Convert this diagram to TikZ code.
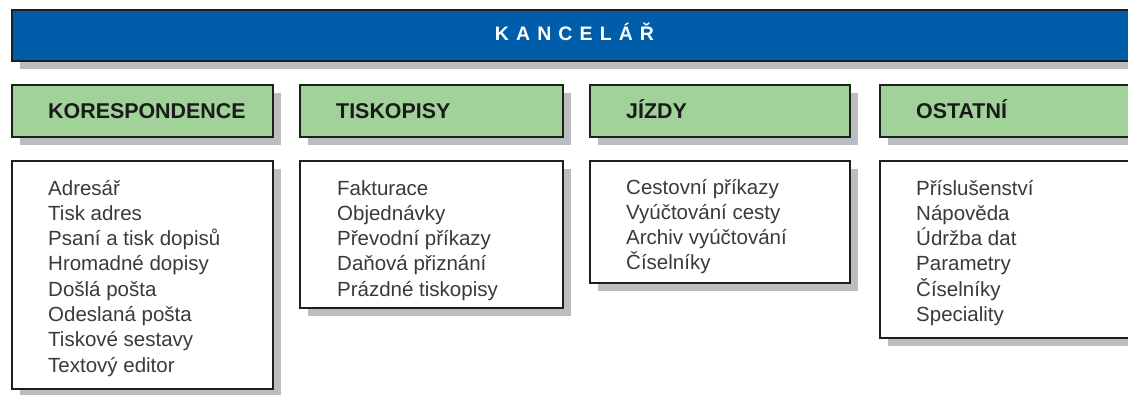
\documentclass[tikz,border=0pt]{standalone}
\usepackage{fontspec}
\setmainfont{Liberation Sans}
\usetikzlibrary{shadows}
\definecolor{barblue}{HTML}{005DA9}
\definecolor{headgreen}{HTML}{A1D29A}
\definecolor{shadowgray}{HTML}{BCBDC0}
\definecolor{edgecol}{HTML}{1E1E1E}
\definecolor{itemtext}{HTML}{3A3A3A}
\definecolor{headtextcol}{HTML}{1A1A1A}
\begin{document}
\begin{tikzpicture}[x=1pt,y=-1pt,
  boxbase/.style={draw=edgecol, line width=2.2pt, rectangle, inner sep=0pt, anchor=north west,
    drop shadow={shadow xshift=8pt, shadow yshift=-8pt, fill=shadowgray, opacity=1}},
  titlebar/.style={boxbase, fill=barblue, minimum width=1140pt, minimum height=51pt},
  headbox/.style={boxbase, fill=headgreen, minimum height=52pt},
  listbox/.style={boxbase, fill=white},
  titletext/.style={text=white, font=\fontsize{19.5}{23}\selectfont\bfseries, inner sep=0pt, anchor=base},
  headtext/.style={text=headtextcol, font=\fontsize{21.4}{25}\selectfont\bfseries, inner sep=0pt, anchor=base west},
  itemlist/.style={text=itemtext, font=\fontsize{20.5}{25.3}\selectfont, inner sep=0pt, anchor=base west}
]
\useasboundingbox (0,0) rectangle (1128,394);
\clip (0,0) rectangle (1128,394);

% title bar
\node[titlebar] (bar) at (11,9) {};
\node[titletext] (title) at (574.5,40) {K\hspace{7.1pt}A\hspace{7.1pt}N\hspace{7.1pt}C\hspace{7.1pt}E\hspace{7.1pt}L\hspace{7.1pt}Á\hspace{7.1pt}Ř};

% heading boxes
\node[headbox, minimum width=261pt] (korhead) at (11,84) {};
\node[headbox, minimum width=263pt] (tiskhead) at (299,84) {};
\node[headbox, minimum width=260pt] (jizdhead) at (589,84) {};
\node[headbox, minimum width=280pt] (osthead) at (879,84) {};

\node[headtext] (korlabel) at (48,118) {KORESPONDENCE};
\node[headtext] (tisklabel) at (336,118) {TISKOPISY};
\node[headtext] (jizdlabel) at (626,118) {JÍZDY};
\node[headtext] (ostlabel) at (916,118) {OSTATNÍ};

% list boxes
\node[listbox, minimum width=261pt, minimum height=228pt] (korbox) at (11,160) {};
\node[listbox, minimum width=263pt, minimum height=147pt] (tiskbox) at (299,160) {};
\node[listbox, minimum width=260pt, minimum height=122pt] (jizdbox) at (589,160) {};
\node[listbox, minimum width=280pt, minimum height=177pt] (ostbox) at (879,160) {};

\node[itemlist] (korlist) at (48,195) {\parbox[t]{215pt}{Adresář\\Tisk adres\\Psaní a tisk dopisů\\Hromadné dopisy\\Došlá pošta\\Odeslaná pošta\\Tiskové sestavy\\Textový editor}};
\node[itemlist] (tisklist) at (337,195) {\parbox[t]{215pt}{Fakturace\\Objednávky\\Převodní příkazy\\Daňová přiznání\\Prázdné tiskopisy}};
\node[itemlist] (jizdlist) at (626,194) {\parbox[t]{215pt}{Cestovní příkazy\\Vyúčtování cesty\\Archiv vyúčtování\\Číselníky}};
\node[itemlist] (ostlist) at (916,195) {\parbox[t]{200pt}{Příslušenství\\Nápověda\\Údržba dat\\Parametry\\Číselníky\\Speciality}};
\end{tikzpicture}
\end{document}
